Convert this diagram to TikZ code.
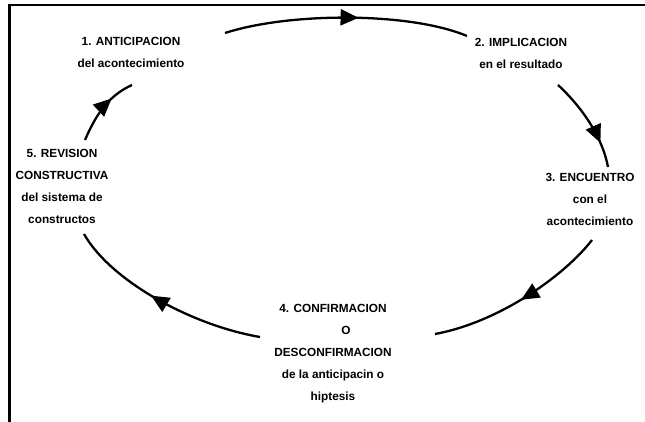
\documentclass[tikz,border=0pt]{standalone}
\usepackage{fontspec}
\setmainfont{Liberation Sans}
\usepackage{tikz}
\usetikzlibrary{arrows.meta,decorations.markings}

\begin{document}
\begin{tikzpicture}[x=1pt,y=-1pt]
% Cycle style
\tikzset{
    stage/.style={align=center, inner sep=2pt,
        font=\fontsize{11.8}{22}\selectfont\bfseries},
    cycle arc/.style={line width=2.3pt, decoration={markings,
        mark=at position #1 with {\arrow{Triangle[length=18pt,width=16pt]}}},
        postaction={decorate}}
}
\useasboundingbox (0,0) rectangle (645,422);
% Frame
\draw[line width=2.2pt] (9.5,422) -- (9.5,5) -- (645,5);
% Stages
\node[stage] (ant) at (131,52.5){1. ANTICIPACION\\del acontecimiento};
\node[stage] (imp) at (521,53){2. IMPLICACION\\en el resultado};
\node[stage] (enc) at (590,199.5){3. ENCUENTRO\\con el\\acontecimiento};
\node[stage] (conf) at (333,354){4. CONFIRMACION\\\hspace*{26pt}O\\DESCONFIRMACION\\de la anticipacin o\\hiptesis};
\node[stage] (rev) at (62,186){5. REVISION\\CONSTRUCTIVA\\del sistema de\\constructos};
% Cycle arrows
\draw[cycle arc=0.55] ([shift={(94,-19.5)}]ant.center) .. controls +(65,-21) and +(-57,-24) .. ([shift={(-54,-17)}]imp.center);
\draw[cycle arc=0.74] ([shift={(37,32)}]imp.center) .. controls +(27,25) and +(-5,-27) .. ([shift={(18,-32.5)}]enc.center);
\draw[cycle arc=0.5] ([shift={(2,40.5)}]enc.center) .. controls +(-27,35) and +(65,-12) .. ([shift={(102,-20)}]conf.center);
\draw[cycle arc=0.56] ([shift={(-73,-17)}]conf.center) .. controls +(-70,-12) and +(26,46) .. ([shift={(22,48)}]rev.center);
\draw[cycle arc=0.67] ([shift={(23,-46)}]rev.center) .. controls +(12,-28) and +(-22,10) .. ([shift={(1,32.5)}]ant.center);

\end{tikzpicture}
\end{document}
